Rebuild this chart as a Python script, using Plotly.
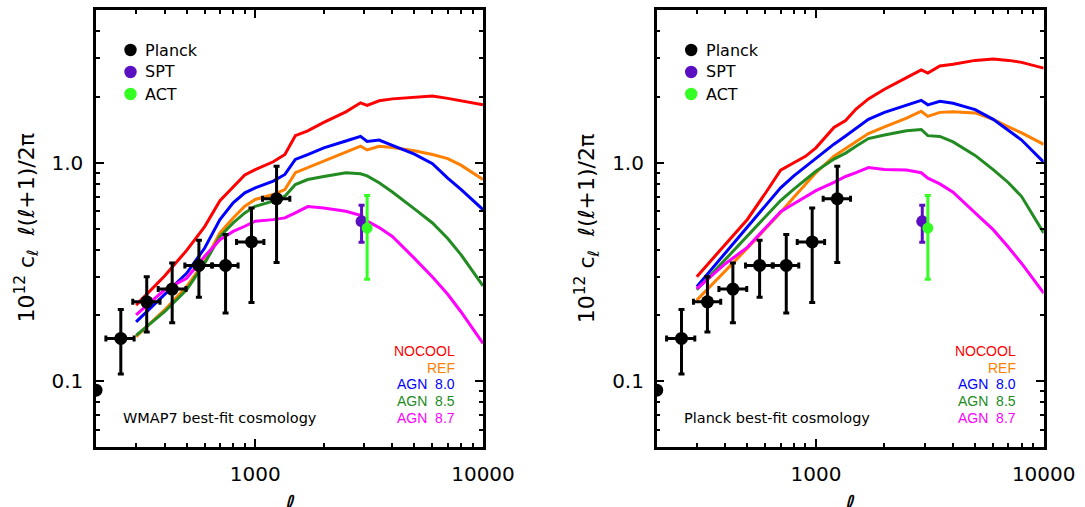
import plotly.graph_objects as go

# ---------------- data ----------------
ell = [300, 400, 500, 600, 700, 800, 900, 1000, 1200, 1350, 1500, 1700, 2000,
       2500, 2900, 3100, 3500, 4000, 5000, 6000, 7000, 8000, 10000]

# WMAP7 best-fit cosmology (left panel)
nocool_w = [0.223, 0.303, 0.397, 0.51, 0.67, 0.77, 0.88, 0.93, 1.01, 1.09, 1.33, 1.40, 1.53,
            1.71, 1.88, 1.83, 1.92, 1.96, 1.99, 2.02, 1.97, 1.92, 1.84]
ref_w = [0.160, 0.212, 0.271, 0.353, 0.477, 0.559, 0.632, 0.679, 0.715, 0.754, 0.90, 0.948, 1.017,
         1.11, 1.19, 1.144, 1.19, 1.175, 1.135, 1.09, 1.045, 0.975, 0.838]
agn80_w = [0.187, 0.248, 0.312, 0.407, 0.549, 0.655, 0.728, 0.767, 0.824, 0.884, 1.035, 1.09, 1.17,
           1.257, 1.32, 1.25, 1.27, 1.20, 1.095, 0.99, 0.85, 0.755, 0.61]
agn85_w = [0.162, 0.208, 0.262, 0.347, 0.46, 0.53, 0.589, 0.632, 0.667, 0.703, 0.795, 0.838, 0.865,
           0.90, 0.89, 0.87, 0.81, 0.735, 0.615, 0.53, 0.45, 0.38, 0.273]
agn87_w = [0.201, 0.262, 0.296, 0.373, 0.444, 0.485, 0.512, 0.54, 0.549, 0.559, 0.589, 0.63, 0.62,
           0.60, 0.575, 0.54, 0.505, 0.46, 0.365, 0.30, 0.25, 0.208, 0.149]

# Planck best-fit cosmology (right panel)
nocool_p = [0.301, 0.424, 0.55, 0.725, 0.925, 1.0, 1.07, 1.17, 1.45, 1.56, 1.76, 1.96, 2.17,
            2.45, 2.66, 2.57, 2.77, 2.82, 2.94, 2.98, 2.94, 2.88, 2.71]
ref_p = [0.235, 0.319, 0.406, 0.499, 0.592, 0.695, 0.80, 0.90, 1.072, 1.161, 1.25, 1.36, 1.46,
         1.60, 1.72, 1.63, 1.70, 1.71, 1.69, 1.58, 1.46, 1.37, 1.213]
agn80_p = [0.271, 0.386, 0.508, 0.636, 0.768, 0.871, 0.962, 1.052, 1.216, 1.325, 1.43, 1.58, 1.70,
           1.84, 1.93, 1.84, 1.91, 1.87, 1.75, 1.58, 1.40, 1.27, 1.006]
agn85_p = [0.262, 0.361, 0.463, 0.566, 0.671, 0.757, 0.836, 0.914, 1.039, 1.107, 1.19, 1.29, 1.34,
           1.40, 1.42, 1.33, 1.32, 1.245, 1.08, 0.93, 0.81, 0.70, 0.477]
agn87_p = [0.265, 0.345, 0.41, 0.502, 0.597, 0.649, 0.697, 0.745, 0.813, 0.865, 0.90, 0.95, 0.93,
           0.925, 0.90, 0.85, 0.80, 0.733, 0.59, 0.494, 0.41, 0.346, 0.253]

# Planck tSZ power spectrum points
planck_l = [257, 334, 432, 566, 741, 963, 1241]
planck_lmin = [221, 290, 375, 491, 643, 828, 1076]
planck_lmax = [294, 382, 497, 650, 841, 1092, 1419]
planck_v = [0.157, 0.231, 0.264, 0.339, 0.339, 0.434, 0.684]
planck_vlo = [0.108, 0.168, 0.185, 0.242, 0.205, 0.229, 0.349]
planck_vhi = [0.213, 0.301, 0.348, 0.442, 0.469, 0.621, 0.964]
planck_edge_l = [200]
planck_edge_v = [0.091]

spt_l = [2930]
spt_v = [0.539]
spt_lo = [0.432]
spt_hi = [0.638]

act_l = [3100]
act_v = [0.502]
act_lo = [0.293]
act_hi = [0.708]

models = ["NOCOOL", "REF", "AGN 8.0", "AGN 8.5", "AGN 8.7"]
model_colors = ["#ff0000", "#ff8000", "#0000ff", "#228b22", "#ff00ff"]
panel_models = [
    [nocool_w, ref_w, agn80_w, agn85_w, agn87_w],
    [nocool_p, ref_p, agn80_p, agn85_p, agn87_p],
]
panel_labels = ["WMAP7 best-fit cosmology", "Planck best-fit cosmology"]

x_ticks = [1000, 10000]
x_ticktext = ["1000", "10000"]
x_minor = [300, 400, 500, 600, 700, 800, 900, 2000, 3000, 4000, 5000, 6000, 7000, 8000, 9000]
y_ticks = [0.1, 1.0]
y_ticktext = ["0.1", "1.0"]
y_minor = [0.06, 0.07, 0.08, 0.09, 0.2, 0.3, 0.4, 0.5, 0.6, 0.7, 0.8, 0.9, 2, 3, 4]

SPT_COLOR = "#5a0fc0"
ACT_COLOR = "#33ff22"
FONT = "Liberation Sans, Arial, sans-serif"
WIDE = "DejaVu Sans, Liberation Sans, sans-serif"

W, H = 1085, 507
fig = go.Figure()

panel_left_px = [96, 656.7]
plot_w_px = 387
top_px, bot_px = 10, 447

for p in range(2):
    xa = "x" if p == 0 else "x2"
    ya = "y" if p == 0 else "y2"
    for name, col, vals in zip(models, model_colors, panel_models[p]):
        fig.add_trace(go.Scatter(x=ell, y=vals, mode="lines", xaxis=xa, yaxis=ya,
                                 line=dict(color=col, width=3), showlegend=False, name=name))
    # Planck points
    fig.add_trace(go.Scatter(
        x=planck_l, y=planck_v, mode="markers", xaxis=xa, yaxis=ya, showlegend=False,
        marker=dict(color="black", size=13),
        error_y=dict(type="data", symmetric=False,
                     array=[h - v for h, v in zip(planck_vhi, planck_v)],
                     arrayminus=[v - l for l, v in zip(planck_vlo, planck_v)],
                     color="black", thickness=3, width=3),
        error_x=dict(type="data", symmetric=False,
                     array=[h - c for h, c in zip(planck_lmax, planck_l)],
                     arrayminus=[c - l for l, c in zip(planck_lmin, planck_l)],
                     color="black", thickness=3, width=3),
    ))
    fig.add_trace(go.Scatter(x=planck_edge_l, y=planck_edge_v, mode="markers", xaxis=xa, yaxis=ya,
                             showlegend=False, marker=dict(color="black", size=13)))
    # SPT
    fig.add_trace(go.Scatter(
        x=spt_l, y=spt_v, mode="markers", xaxis=xa, yaxis=ya, showlegend=False,
        marker=dict(color=SPT_COLOR, size=12),
        error_y=dict(type="data", symmetric=False,
                     array=[h - v for h, v in zip(spt_hi, spt_v)],
                     arrayminus=[v - l for l, v in zip(spt_lo, spt_v)],
                     color=SPT_COLOR, thickness=3, width=3),
    ))
    # ACT
    fig.add_trace(go.Scatter(
        x=act_l, y=act_v, mode="markers", xaxis=xa, yaxis=ya, showlegend=False,
        marker=dict(color=ACT_COLOR, size=11),
        error_y=dict(type="data", symmetric=False,
                     array=[h - v for h, v in zip(act_hi, act_v)],
                     arrayminus=[v - l for l, v in zip(act_lo, act_v)],
                     color=ACT_COLOR, thickness=3, width=3),
    ))

axis_common = dict(type="log", showline=True, linecolor="black", linewidth=2.5, mirror="ticks",
                   ticks="inside", ticklen=8, tickwidth=2, tickcolor="black",
                   showgrid=False, zeroline=False, automargin=False,
                   tickfont=dict(family=WIDE, size=20, color="black"))

y_dom = [1 - bot_px / H, 1 - top_px / H]
for p in range(2):
    sfx = "" if p == 0 else "2"
    x0 = panel_left_px[p] / W
    x1 = (panel_left_px[p] + plot_w_px) / W
    fig.update_layout(**{
        "xaxis" + sfx: dict(axis_common, domain=[x0, x1], anchor="y" + sfx,
                            range=[2.30103, 4.0], tickmode="array",
                            tickvals=x_ticks, ticktext=x_ticktext, ticklabelstandoff=7,
                            minor=dict(tickmode="array", tickvals=x_minor, ticks="inside",
                                       ticklen=4, tickwidth=2, tickcolor="black", showgrid=False)),
        "yaxis" + sfx: dict(axis_common, domain=y_dom, anchor="x" + sfx,
                            range=[-1.30103, 0.69897], tickmode="array",
                            tickvals=y_ticks, ticktext=y_ticktext, ticklabelstandoff=6,
                            minor=dict(tickmode="array", tickvals=y_minor, ticks="inside",
                                       ticklen=4, tickwidth=2, tickcolor="black", showgrid=False)),
    })

annotations = []
shapes = []
plot_h_px = bot_px - top_px
NB = "\u00a0"
for p in range(2):
    xr = ("x" if p == 0 else "x2") + " domain"
    yr = ("y" if p == 0 else "y2") + " domain"
    # data legend (top-left)
    for name, col, py in zip(["Planck", "SPT", "ACT"], ["black", SPT_COLOR, ACT_COLOR], [50, 72, 94]):
        cx = (130.5 - 96) / plot_w_px
        cy = (bot_px - py) / plot_h_px
        rx = 6.2 / plot_w_px
        ry = 6.2 / plot_h_px
        shapes.append(dict(type="circle", xref=xr, yref=yr, x0=cx - rx, x1=cx + rx,
                           y0=cy - ry, y1=cy + ry, fillcolor=col, line=dict(width=0)))
        annotations.append(dict(xref=xr, yref=yr, x=(143 - 96) / plot_w_px, y=cy,
                                xanchor="left", yanchor="middle", showarrow=False, text=name,
                                font=dict(family=WIDE, size=16, color="black")))
    # model legend (bottom-right)
    for name, col, py in zip(models, model_colors, [351, 367.7, 384, 401, 418]):
        annotations.append(dict(xref=xr, yref=yr, x=(457 - 96) / plot_w_px,
                                y=(bot_px - py) / plot_h_px, xanchor="right", yanchor="middle",
                                showarrow=False, text=name.replace(" ", NB + NB),
                                font=dict(family=FONT, size=14, color=col)))
    annotations.append(dict(xref=xr, yref=yr, x=(121 - 96) / plot_w_px, y=(bot_px - 418) / plot_h_px,
                            xanchor="left", yanchor="middle", showarrow=False, text=panel_labels[p],
                            font=dict(family=WIDE, size=14.5, color="black")))
    # axis titles
    left = panel_left_px[p]
    annotations.append(dict(xref="paper", yref="paper", x=(left - 69) / W,
                            y=1 - ((top_px + bot_px) / 2) / H, xanchor="center", yanchor="middle",
                            textangle=-90, showarrow=False,
                            text="10<sup>12</sup>" + NB + "c<sub>ℓ</sub>" + NB + NB + "ℓ(ℓ+1)/2π",
                            font=dict(family=WIDE, size=22, color="black")))
    annotations.append(dict(xref="paper", yref="paper", x=(left + plot_w_px / 2) / W,
                            y=1 - 488 / H, xanchor="center", yanchor="top", showarrow=False,
                            text="ℓ", font=dict(family=WIDE, size=26, color="black")))

fig.update_layout(width=W, height=H, margin=dict(l=0, r=0, t=0, b=0, autoexpand=False),
                  paper_bgcolor="white", plot_bgcolor="white",
                  showlegend=False, annotations=annotations, shapes=shapes)

fig.write_html("out.html", config={"responsive": False})
